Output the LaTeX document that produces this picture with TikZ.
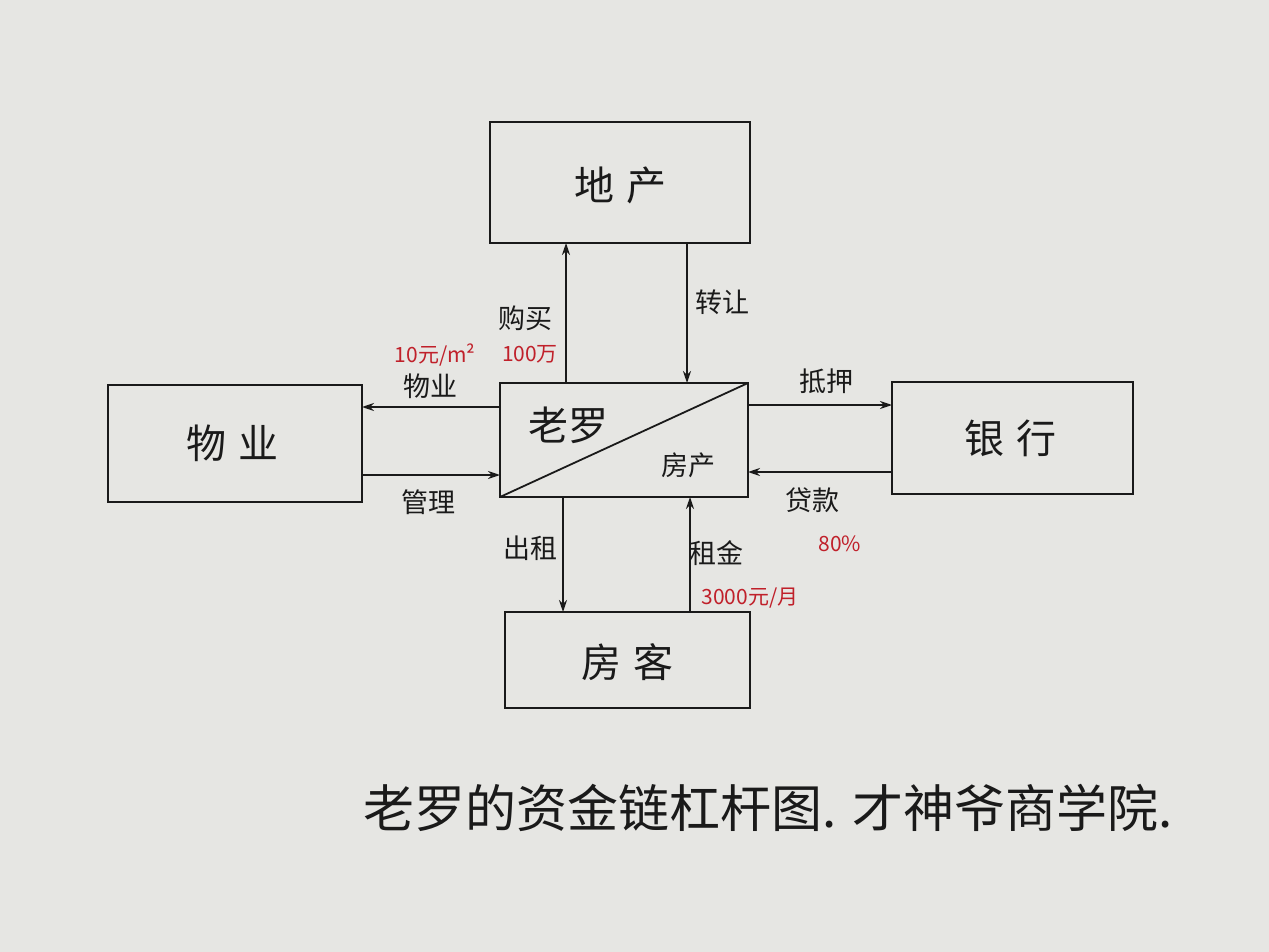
\documentclass[tikz,border=0pt]{standalone}
\usepackage{fontspec}
\setmainfont{Noto Sans CJK SC}
\usetikzlibrary{arrows.meta}
\definecolor{paper}{HTML}{E6E6E3}
\definecolor{ink}{HTML}{1A1A1A}
\definecolor{redink}{HTML}{C0202A}
\begin{document}
\begin{tikzpicture}[x=1pt,y=-1pt,
  box/.style={draw=ink,line width=2.5pt},
  conn/.style={draw=ink,line width=1.8pt,-{Stealth[length=12pt,width=8pt]}},
  big/.style={font=\fontsize{40}{40}\selectfont,text=ink},
  lab/.style={font=\fontsize{27}{27}\selectfont,text=ink},
  red/.style={font=\fontsize{21}{21}\selectfont,text=redink}]
\fill[paper] (0,0) rectangle (1269,952);
\useasboundingbox (0,0) rectangle (1269,952);
\draw[box] (490,122) rectangle (750,243);
\node[big] (dc) at (620,185) {地\hspace{12pt}产};
\draw[box] (108,385) rectangle (362,502);
\node[big] (wy) at (232,443) {物\hspace{12pt}业};
\draw[box] (500,383) rectangle (748,497);
\draw[ink,line width=1.8pt] (500,497) -- (748,383);
\node[big] (lr) at (568,425) {老罗};
\node[lab] (fc) at (688,465) {房产};
\draw[box] (892,382) rectangle (1133,494);
\node[big] (yh) at (1010,438) {银\hspace{12pt}行};
\draw[box] (505,612) rectangle (750,708);
\node[big] (fk) at (627,662) {房\hspace{12pt}客};
\coordinate (a1) at (566,383); \coordinate (a2) at (566,243);
\draw[conn] (a1) -- (a2);
\coordinate (b1) at (687,243); \coordinate (b2) at (687,383);
\draw[conn] (b1) -- (b2);
\coordinate (c1) at (500,407); \coordinate (c2) at (362,407);
\draw[conn] (c1) -- (c2);
\coordinate (d1) at (362,475); \coordinate (d2) at (500,475);
\draw[conn] (d1) -- (d2);
\coordinate (e1) at (748,405); \coordinate (e2) at (892,405);
\draw[conn] (e1) -- (e2);
\coordinate (f1) at (892,472); \coordinate (f2) at (748,472);
\draw[conn] (f1) -- (f2);
\coordinate (g1) at (563,497); \coordinate (g2) at (563,612);
\draw[conn] (g1) -- (g2);
\coordinate (h1) at (690,612); \coordinate (h2) at (690,497);
\draw[conn] (h1) -- (h2);
\node[lab] (l1) at (525,318) {购买};
\node[lab] (l2) at (722,302) {转让};
\node[lab] (l3) at (430,386) {物业};
\node[lab] (l4) at (428,502) {管理};
\node[lab] (l5) at (826,381) {抵押};
\node[lab] (l6) at (812,500) {贷款};
\node[lab] (l7) at (530,548) {出租};
\node[lab] (l8) at (716,553) {租金};
\node[red] (r1) at (435,355) {10元/m²};
\node[red] (r2) at (530,354) {100万};
\node[red] (r3) at (840,544) {80\%};
\node[red] (r4) at (750,598) {3000元/月};
\node[font=\fontsize{51}{51}\selectfont,text=ink] (cap) at (768,808) {老罗的资金链杠杆图. 才神爷商学院.};
\end{tikzpicture}
\end{document}
